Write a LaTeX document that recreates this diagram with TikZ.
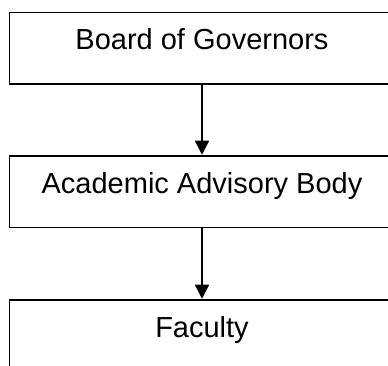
\documentclass[tikz,border=0pt]{standalone}
\usepackage{fontspec}
\setmainfont{Liberation Sans}
\usetikzlibrary{arrows.meta}
\begin{document}
\begin{tikzpicture}[x=1pt,y=1pt,
  orgbox/.style={draw=black, line width=1.5pt, rectangle, minimum width=385pt,
    minimum height=71.5pt, inner sep=0pt, text height=20pt, text depth=16.5pt,
    font=\fontsize{29pt}{34pt}\selectfont, fill=white},
  link/.style={draw=black, line width=1.5pt, -{Triangle[width=14pt,length=14pt]}, shorten >=0.5pt}]
\useasboundingbox (0,0) rectangle (388,366);
\clip (0,0) rectangle (388,366);
\node[orgbox] (bog) at (202,317.75) {Board of Governors};
\node[orgbox] (aab) at (202,174.25) {Academic Advisory Body};
\node[orgbox] (fac) at (202,30.25) {Faculty};
\draw[link] (bog.south) -- (aab.north);
\draw[link] (aab.south) -- (fac.north);
\end{tikzpicture}
\end{document}
